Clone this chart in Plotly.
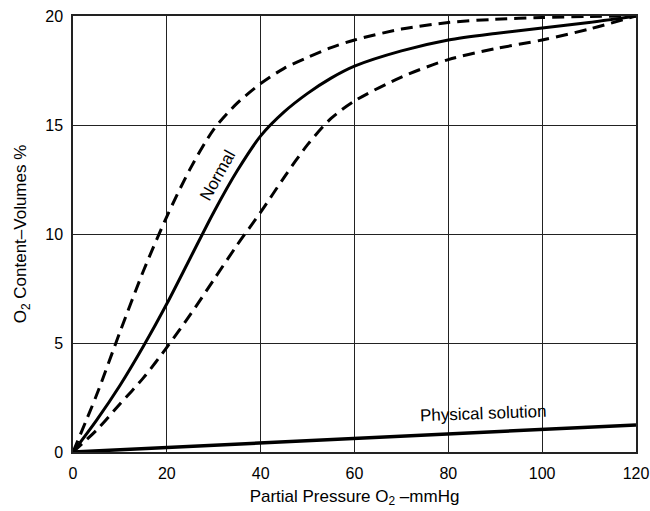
import plotly.graph_objects as go

# Partial pressure O2 (mmHg)
pressure = [0, 5, 10, 15, 20, 25, 30, 35, 40, 45, 50, 55, 60, 70, 80, 90, 100, 110, 120]

# O2 content (volumes %)
normal = [0, 1.45, 3.05, 4.85, 6.8, 8.9, 11.0, 12.9, 14.5, 15.6, 16.45, 17.15, 17.7, 18.4, 18.9, 19.2, 19.45, 19.7, 20.0]
upper_dashed = [0, 2.6, 5.5, 8.3, 10.8, 13.0, 14.8, 16.0, 16.9, 17.6, 18.1, 18.55, 18.9, 19.4, 19.7, 19.85, 19.93, 19.98, 20.0]
lower_dashed = [0, 1.0, 2.2, 3.4, 4.8, 6.3, 7.9, 9.5, 11.0, 12.6, 14.1, 15.3, 16.1, 17.2, 18.0, 18.5, 18.9, 19.4, 20.0]
physical = [0, 0.05, 0.1, 0.15, 0.2, 0.25, 0.31, 0.36, 0.41, 0.46, 0.52, 0.57, 0.62, 0.73, 0.83, 0.94, 1.04, 1.14, 1.24]

x_ticks = [0, 20, 40, 60, 80, 100, 120]
y_ticks = [0, 5, 10, 15, 20]

FONT = "Liberation Sans, Arial, sans-serif"

fig = go.Figure()
fig.add_trace(go.Scatter(x=pressure, y=upper_dashed, mode="lines",
                         line=dict(color="black", width=3, dash="12px,7px", shape="spline", smoothing=0.8)))
fig.add_trace(go.Scatter(x=pressure, y=lower_dashed, mode="lines",
                         line=dict(color="black", width=3, dash="12px,7px", shape="spline", smoothing=0.8)))
fig.add_trace(go.Scatter(x=pressure, y=normal, mode="lines",
                         line=dict(color="black", width=3, shape="spline", smoothing=0.8)))
fig.add_trace(go.Scatter(x=pressure, y=physical, mode="lines",
                         line=dict(color="black", width=3.5)))

fig.add_annotation(x=30.8, y=12.7, text="Normal", showarrow=False, textangle=-61,
                   font=dict(family=FONT, size=17, color="black"))
fig.add_annotation(x=87.5, y=1.75, text="Physical solution", showarrow=False, textangle=-2,
                   font=dict(family=FONT, size=17, color="black"))

fig.update_layout(
    width=650, height=511,
    margin=dict(l=73, r=14, t=16, b=59),
    paper_bgcolor="white", plot_bgcolor="white",
    showlegend=False,
    font=dict(family=FONT, size=16, color="black"),
    xaxis=dict(range=[0, 120], tickvals=x_ticks, ticktext=[str(v) for v in x_ticks],
               showgrid=True, gridcolor="#222", gridwidth=1.3, zeroline=False,
               showline=True, linecolor="#222", linewidth=1.5, mirror=True,
               ticks="", ticklabelstandoff=6, automargin=False,
               title=dict(text="Partial Pressure O<sub>2</sub> –mmHg", font=dict(size=17), standoff=9)),
    yaxis=dict(range=[0, 20], tickvals=y_ticks, ticktext=[str(v) for v in y_ticks],
               showgrid=True, gridcolor="#222", gridwidth=1.3, zeroline=False,
               showline=True, linecolor="#222", linewidth=1.5, mirror=True,
               ticks="", ticklabelstandoff=5, automargin=False,
               title=dict(text="O<sub>2</sub> Content–Volumes %", font=dict(size=17), standoff=14)),
)

fig.write_html("out.html", config={"displayModeBar": False},
               post_script="document.body.style.margin='0';")
